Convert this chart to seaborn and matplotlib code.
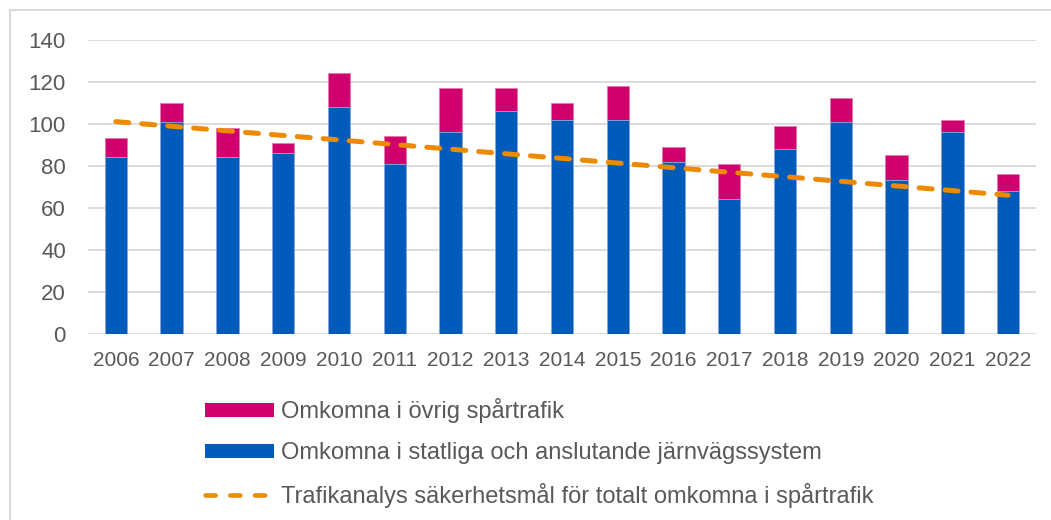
import numpy as np
import pandas as pd
import matplotlib
matplotlib.use("Agg")
import matplotlib.pyplot as plt
import seaborn as sns
from matplotlib.patches import Patch, Rectangle
from matplotlib.lines import Line2D

years = ["2006", "2007", "2008", "2009", "2010", "2011", "2012", "2013", "2014",
         "2015", "2016", "2017", "2018", "2019", "2020", "2021", "2022"]
statliga = [84, 101, 84, 86, 108, 81, 96, 106, 102, 102, 82, 64, 88, 101, 73, 96, 68]
ovrig = [9, 9, 14, 5, 16, 13, 21, 11, 8, 16, 7, 17, 11, 11, 12, 6, 8]
target = [101, 98.8, 96.6, 94.4, 92.3, 90.1, 87.9, 85.7, 83.5, 81.3, 79.1,
          76.9, 74.8, 72.6, 70.4, 68.2, 66]

label_ovrig = "Omkomna i övrig spårtrafik"
label_stat = "Omkomna i statliga och anslutande järnvägssystem"
label_target = "Trafikanalys säkerhetsmål för totalt omkomna i spårtrafik"

c_mag = "#D0006F"
c_blue = "#005BBB"
c_orange = "#EE8A00"
c_text = "#595959"
c_grid = "#D9D9D9"

sns.set_theme(style="white")
plt.rcParams["font.family"] = ["Liberation Sans", "DejaVu Sans"]

df = pd.DataFrame({"year": years, "statliga": statliga, "ovrig": ovrig})
df["total"] = df["statliga"] + df["ovrig"]

fig = plt.figure(figsize=(10.51, 5.20), dpi=100)
ax = fig.add_axes([88 / 1051, 1 - 334 / 520, (1036 - 88) / 1051, (334 - 39.6) / 520])

sns.barplot(data=df, x="year", y="total", color=c_mag, width=0.4, ax=ax,
            saturation=1, edgecolor="#E07AAE", linewidth=0.6, zorder=3)
sns.barplot(data=df, x="year", y="statliga", color=c_blue, width=0.4, ax=ax,
            saturation=1, edgecolor="#8DB0E0", linewidth=0.6, zorder=3)
sns.lineplot(x=np.arange(len(years)), y=target, ax=ax, color=c_orange,
             linewidth=3.6, zorder=4, dashes=False)
line = ax.lines[-1]
line.set_dashes([2.6, 2.6])
line.set_dash_capstyle("round")

ax.set_xlim(-0.5, len(years) - 0.5)
ax.set_ylim(0, 140)
ax.set_yticks(np.arange(0, 141, 20))
ax.yaxis.grid(True, color=c_grid, linewidth=1.3, zorder=0)
ax.xaxis.grid(False)
ax.set_axisbelow(True)
for s in ax.spines.values():
    s.set_visible(False)
ax.tick_params(axis="both", length=0, labelcolor=c_text)
ax.tick_params(axis="y", pad=16, labelsize=16)
ax.tick_params(axis="x", pad=12, labelsize=15)
ax.set_xlabel("")
ax.set_ylabel("")

# outer frame
fig.patches.append(Rectangle((10 / 1051, -0.2), 1.3, 1.2 - 10 / 520,
                             transform=fig.transFigure, fill=False,
                             edgecolor="#D9D9D9", linewidth=1.5, zorder=-1))

handles = [
    Patch(facecolor=c_mag, edgecolor="none"),
    Patch(facecolor=c_blue, edgecolor="none"),
    Line2D([0], [0], color=c_orange, linewidth=3.3, dashes=[2.2, 3.2],
           dash_capstyle="round"),
]
leg = fig.legend(handles, [label_ovrig, label_stat, label_target],
                 loc="upper left", bbox_to_anchor=(196 / 1051, 1 - 389 / 520),
                 frameon=False, fontsize=17, handlelength=2.9, handleheight=0.55,
                 handletextpad=0.3, labelspacing=0.8, borderaxespad=0)
for t in leg.get_texts():
    t.set_color(c_text)

fig.savefig("out.png", dpi=100)
